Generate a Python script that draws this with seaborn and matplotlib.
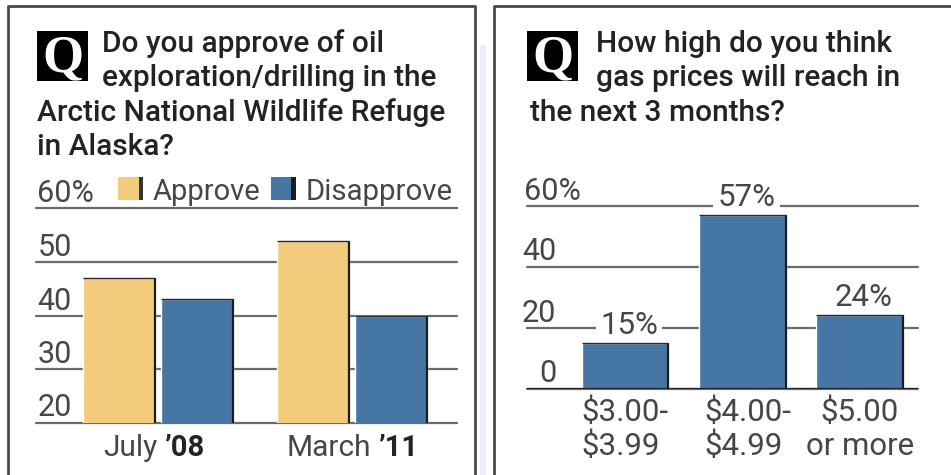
import pandas as pd
import matplotlib
matplotlib.use("Agg")
import matplotlib.pyplot as plt
from matplotlib.patches import Rectangle
from matplotlib.transforms import ScaledTranslation
import seaborn as sns

periods = ["July", "March"]
approve = [47, 54]
disapprove = [43, 40]
left_ticks = [20, 30, 40, 50, 60]
left_ticklabels = ["20", "30", "40", "50", "60%"]

prices = ["$3.00-\n$3.99", "$4.00-\n$4.99", "$5.00\nor more"]
price_share = [15, 57, 24]
right_ticks = [0, 20, 40, 60]
right_ticklabels = ["0", "20", "40", "60%"]

YELLOW = "#F2CB7C"
BLUE = "#4676A3"
GRID = "#6a6a6a"
INK = "#232323"
SOFT = "#464646"
W, H = 951, 475

sns.set_theme(style="white")
plt.rcParams["font.family"] = ["Roboto", "DejaVu Sans"]

fig = plt.figure(figsize=(W / 100, H / 100), dpi=100)


def px_axes(x0, x1, top, bottom):
    return fig.add_axes([x0 / W, 1 - bottom / H, (x1 - x0) / W, (bottom - top) / H])


def px_text(x, y, s, **kw):
    return fig.text(x / W, 1 - y / H, s, va="baseline", parse_math=False, **kw)


def px_rect(x, y, w, h, **kw):
    fig.add_artist(Rectangle((x / W, 1 - (y + h) / H), w / W, h / H,
                             transform=fig.transFigure, **kw))


def style_axes(ax, ticks, labels, grid_lw=1.6):
    sns.despine(ax=ax, left=True, bottom=True, top=True, right=True)
    ax.set_axisbelow(True)
    ax.set_yticks(ticks)
    ax.set_yticklabels(labels)
    ax.grid(axis="y", color=GRID, lw=grid_lw, clip_on=False)
    ax.grid(axis="x", visible=False)
    ax.set_xlabel("")
    ax.set_ylabel("")
    ax.tick_params(axis="both", length=0)


def bar_shadow(ax):
    # dark edge down the right side and along the top of each bar
    for p in ax.patches:
        x1 = p.get_x() + p.get_width()
        x0 = p.get_x()
        y0, y1 = p.get_y(), p.get_y() + p.get_height()
        ax.plot([x1, x1], [y0, y1], color="#1c1c1c", lw=1.6, solid_capstyle="butt", zorder=4)
        ax.plot([x0, x1], [y1, y1], color="#2a2a2a", lw=1.0, solid_capstyle="butt", zorder=4)


# panel frames
px_rect(480, 45, 6, 430, facecolor="#eceef8", edgecolor="none")
for x0, x1 in [(8, 475), (494, 960)]:
    fig.add_artist(plt.Line2D([x0 / W, x0 / W, x1 / W, x1 / W],
                              [0, 1 - 6 / H, 1 - 6 / H, 0],
                              color="#4a4a4a", lw=2, transform=fig.transFigure))

# left chart
ax1 = px_axes(36, 457, 208.5, 422.5)
long_df = pd.DataFrame({
    "period": periods * 2,
    "answer": ["Approve"] * 2 + ["Disapprove"] * 2,
    "share": approve + disapprove,
})
sns.barplot(data=long_df, x="period", y="share", hue="answer", order=periods,
            palette=[YELLOW, BLUE], width=0.804, gap=0.077, legend=False,
            saturation=1, ax=ax1)
ax1.set_xlim(-0.629, 1.541)
ax1.set_ylim(20, 60)
style_axes(ax1, left_ticks, left_ticklabels)
ax1.set_xticks([])
bar_shadow(ax1)
for tick, lab in zip(ax1.yaxis.get_major_ticks(), ax1.get_yticklabels()):
    tick.set_pad(-1)
    lab.set_ha("left")
    lab.set_va("bottom")
    lab.set_fontsize(22)
    lab.set_color(SOFT)

# right chart
ax2 = px_axes(527, 918, 205.5, 388.5)
sns.barplot(x=prices, y=price_share, color=BLUE, width=0.74, saturation=1, ax=ax2)
ax2.set_xlim(-0.834, 2.494)
ax2.set_ylim(0, 60)
style_axes(ax2, right_ticks, right_ticklabels)
ax2.axhline(0, color="#222222", lw=1.6, zorder=1)
bar_shadow(ax2)
for tick, lab, txt in zip(ax2.yaxis.get_major_ticks(), ax2.get_yticklabels(), right_ticklabels):
    tick.set_pad(-39 if "%" in txt else -21)
    lab.set_ha("right")
    lab.set_va("bottom")
    lab.set_fontsize(22)
    lab.set_color(SOFT)
ax2.tick_params(axis="x", pad=6.5)
for lab, txt in zip(ax2.get_xticklabels(), prices):
    lab.set_parse_math(False)
    lab.set_fontsize(22.5)
    lab.set_color(SOFT)
    lab.set_linespacing(1.2)
    if "-" in txt:
        # price ranges are flush left, not centred
        lab.set_multialignment("left")
    if txt.startswith("$4"):
        lab.set_transform(lab.get_transform() + ScaledTranslation(5 / 100, 0, fig.dpi_scale_trans))
# labels sit under the bars so their white box only breaks the gridlines
for i, v in enumerate(price_share):
    ax2.annotate(f"{v}%", (i, v), xytext=(4, 3), textcoords="offset pixels",
                 ha="center", va="bottom", fontsize=22.5, color=SOFT, zorder=0.9,
                 bbox=dict(facecolor="white", edgecolor="none", pad=3))

# Q boxes
for x in [37, 527]:
    px_rect(x, 31, 51, 50, facecolor="black", edgecolor="none")
    px_text(x + 25.5, 71, "Q", ha="center", family="Liberation Serif", weight="bold",
            fontsize=38, color="white")

# question text
left_lines = [(102, 52, "Do you approve of oil"),
              (102, 86, "exploration/drilling in the"),
              (37, 121, "Arctic National Wildlife Refuge"),
              (37, 155, "in Alaska?")]
right_lines = [(596, 52, "How high do you think"),
               (596, 86, "gas prices will reach in"),
               (530, 121, "the next 3 months?")]
for x, y, s in left_lines + right_lines:
    px_text(x, y, s, fontsize=21.5, color=INK, weight="medium")

# legend
px_rect(118, 177, 25, 23, facecolor=YELLOW, edgecolor="none")
px_rect(139, 177, 4, 23, facecolor="#333333", edgecolor="none")
px_text(153, 200, "Approve", fontsize=21, color=SOFT)
px_rect(271, 177, 25, 23, facecolor=BLUE, edgecolor="none")
px_rect(291, 177, 5, 23, facecolor="#1c1c1c", edgecolor="none")
px_text(306, 200, "Disapprove", fontsize=21.2, color=SOFT)

# category labels, the year part is bold
px_text(157, 456, "July", ha="right", fontsize=21.5, color=SOFT)
px_text(164, 456, "\u201908", fontsize=21, color=INK, weight="bold")
px_text(371, 456, "March", ha="right", fontsize=21.5, color=SOFT)
px_text(378, 456, "\u201911", fontsize=21, color=INK, weight="bold")

fig.savefig("out.png", dpi=100)
